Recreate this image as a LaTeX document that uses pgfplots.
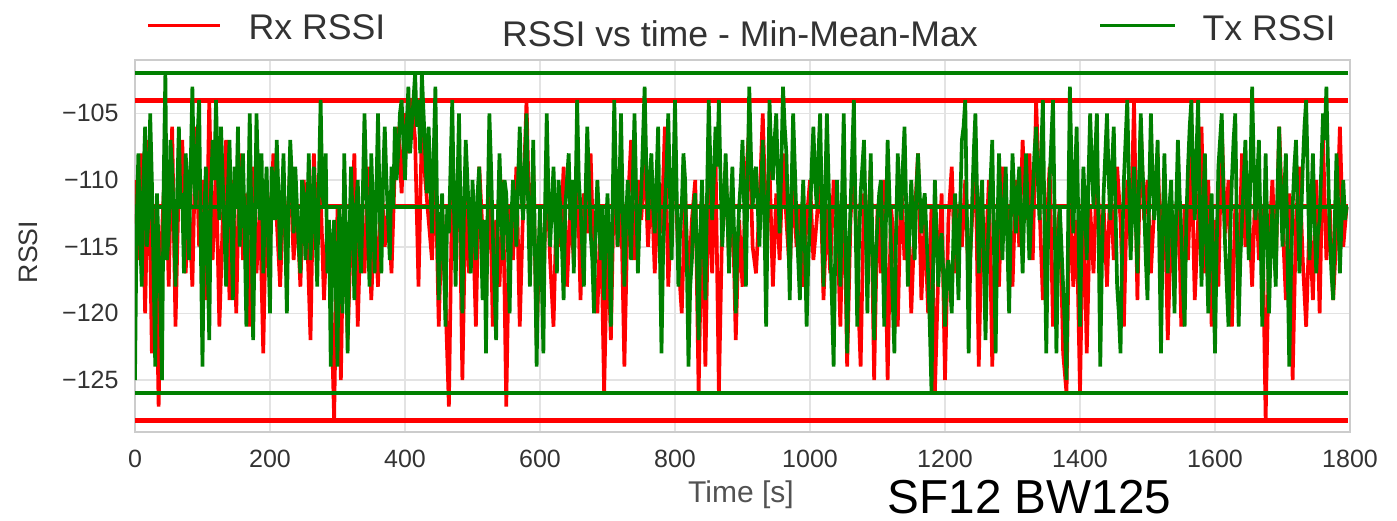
\documentclass[border=0pt]{standalone}
\usepackage{pgfplots}
\pgfplotsset{compat=1.18}
\usepackage{fontspec}
\setmainfont{Liberation Sans}
\definecolor{rxred}{HTML}{FF0000}
\definecolor{txgreen}{HTML}{008000}
\definecolor{gridgray}{HTML}{E3E3E3}
\definecolor{framegray}{HTML}{CCCCCC}
\definecolor{labgray}{HTML}{333333}
\begin{document}
\begin{tikzpicture}
\path[use as bounding box] (-40.5pt,-26.4pt) rectangle (378.6pt,129.6pt);
\begin{axis}[
    at={(0,0)}, anchor=south west,
    scale only axis,
    width=364.5pt, height=111.6pt,
    xmin=0, xmax=1800,
    ymin=-128.9, ymax=-101,
    xtick={0,200,...,1800},
    xticklabels={0,200,400,600,800,1000,1200,1400,1600,1800},
    ytick={-125,-120,-115,-110,-105},
    yticklabels={−125,−120,−115,−110,−105},
    grid=major,
    grid style={gridgray, line width=0.5pt},
    axis line style={framegray, line width=0.6pt},
    tick style={draw=none},
    ticklabel style={font=\fontsize{7.5}{9}\selectfont, text=labgray},
    xticklabel style={yshift=-1.9pt},
    yticklabel style={xshift=-1.4pt},
    clip=true]

% Rx RSSI samples
\addplot[rxred, line width=1.1pt] coordinates {
(0,-110)(5,-116)(10,-108)(15,-120)(20,-107)(25,-123)(30,-112)(35,-127)(40,-114)(45,-108)(50,-118)(55,-106)
(60,-121)(65,-110)(70,-107)(75,-117)(80,-112)(85,-118)(90,-106)(95,-115)(100,-110)(105,-119)(110,-104)(115,-116)
(120,-109)(125,-121)(130,-113)(135,-107)(140,-119)(145,-110)(150,-120)(155,-108)(160,-116)(165,-111)(170,-121)(175,-109)
(180,-117)(185,-112)(190,-123)(195,-110)(200,-115)(205,-108)(210,-113)(215,-118)(220,-111)(225,-114)(230,-109)(235,-116)
(240,-112)(245,-118)(250,-110)(255,-114)(260,-122)(265,-108)(270,-115)(275,-111)(280,-119)(285,-113)(290,-118)(295,-128)
(300,-112)(305,-125)(310,-110)(315,-122)(320,-114)(325,-108)(330,-121)(335,-112)(340,-117)(345,-109)(350,-119)(355,-113)
(360,-118)(365,-110)(370,-115)(375,-112)(380,-117)(385,-109)(390,-106)(395,-111)(400,-105)(405,-108)(410,-104)(415,-107)
(420,-118)(425,-106)(430,-110)(435,-113)(440,-116)(445,-109)(450,-121)(455,-112)(460,-119)(465,-127)(470,-110)(475,-115)
(480,-108)(485,-125)(490,-111)(495,-117)(500,-112)(505,-121)(510,-109)(515,-114)(520,-119)(525,-108)(530,-121)(535,-113)
(540,-118)(545,-110)(550,-127)(555,-112)(560,-116)(565,-109)(570,-121)(575,-112)(580,-104)(585,-115)(590,-109)(595,-122)
(600,-113)(605,-118)(610,-109)(615,-116)(620,-121)(625,-111)(630,-115)(635,-109)(640,-118)(645,-112)(650,-116)(655,-108)
(660,-119)(665,-111)(670,-114)(675,-108)(680,-117)(685,-120)(690,-112)(695,-126)(700,-114)(705,-122)(710,-109)(715,-115)
(720,-111)(725,-124)(730,-112)(735,-107)(740,-116)(745,-110)(750,-113)(755,-108)(760,-115)(765,-110)(770,-117)(775,-111)
(780,-114)(785,-106)(790,-118)(795,-112)(800,-109)(805,-116)(810,-120)(815,-111)(820,-118)(825,-113)(830,-110)(835,-126)
(840,-112)(845,-124)(850,-110)(855,-117)(860,-108)(865,-126)(870,-113)(875,-109)(880,-116)(885,-111)(890,-122)(895,-113)
(900,-118)(905,-110)(910,-106)(915,-115)(920,-117)(925,-112)(930,-105)(935,-114)(940,-109)(945,-118)(950,-111)(955,-116)
(960,-108)(965,-113)(970,-117)(975,-110)(980,-115)(985,-112)(990,-118)(995,-113)(1000,-110)(1005,-116)(1010,-113)(1015,-109)
(1020,-119)(1025,-112)(1030,-117)(1035,-110)(1040,-113)(1045,-121)(1050,-109)(1055,-124)(1060,-113)(1065,-108)(1070,-117)(1075,-124)
(1080,-111)(1085,-115)(1090,-109)(1095,-125)(1100,-112)(1105,-117)(1110,-110)(1115,-125)(1120,-112)(1125,-115)(1130,-121)(1135,-110)
(1140,-116)(1145,-112)(1150,-120)(1155,-113)(1160,-108)(1165,-119)(1170,-113)(1175,-120)(1180,-112)(1185,-126)(1190,-117)(1195,-111)
(1200,-125)(1205,-113)(1210,-109)(1215,-117)(1220,-112)(1225,-115)(1230,-110)(1235,-118)(1240,-113)(1245,-108)(1250,-124)(1255,-112)
(1260,-116)(1265,-110)(1270,-124)(1275,-113)(1280,-118)(1285,-109)(1290,-114)(1295,-112)(1300,-118)(1305,-110)(1310,-115)(1315,-107)
(1320,-113)(1325,-108)(1330,-116)(1335,-104)(1340,-112)(1345,-119)(1350,-114)(1355,-109)(1360,-121)(1365,-115)(1370,-112)(1375,-123)
(1380,-126)(1385,-110)(1390,-118)(1395,-113)(1400,-126)(1405,-111)(1410,-123)(1415,-112)(1420,-117)(1425,-109)(1430,-115)(1435,-112)
(1440,-118)(1445,-110)(1450,-116)(1455,-109)(1460,-113)(1465,-121)(1470,-110)(1475,-115)(1480,-104)(1485,-119)(1490,-106)(1495,-113)
(1500,-110)(1505,-117)(1510,-112)(1515,-108)(1520,-116)(1525,-110)(1530,-122)(1535,-113)(1540,-118)(1545,-109)(1550,-121)(1555,-112)
(1560,-116)(1565,-108)(1570,-119)(1575,-113)(1580,-106)(1585,-117)(1590,-110)(1595,-121)(1600,-113)(1605,-118)(1610,-106)(1615,-114)
(1620,-110)(1625,-121)(1630,-112)(1635,-117)(1640,-108)(1645,-115)(1650,-112)(1655,-118)(1660,-110)(1665,-116)(1670,-112)(1675,-128)
(1680,-115)(1685,-110)(1690,-117)(1695,-106)(1700,-113)(1705,-119)(1710,-111)(1715,-125)(1720,-113)(1725,-109)(1730,-116)(1735,-121)
(1740,-113)(1745,-119)(1750,-110)(1755,-120)(1760,-107)(1765,-116)(1770,-112)(1775,-119)(1780,-114)(1785,-106)(1790,-115)(1795,-112)
};
% Rx min / mean / max
\addplot[rxred, line width=1.5pt] coordinates {(0,-128) (1797,-128)};
\addplot[rxred, line width=1.5pt] coordinates {(0,-112) (1797,-112)};
\addplot[rxred, line width=1.5pt] coordinates {(0,-104) (1797,-104)};

% Tx RSSI samples
\addplot[txgreen, line width=1.1pt] coordinates {
(0,-125)(2.5,-113)(5,-108)(7.5,-114)(10,-118)(12.5,-110)(15,-106)(17.5,-115)(20,-113)(22.5,-105)(25,-110)(27.5,-117)
(30,-124)(32.5,-111)(35,-115)(37.5,-119)(40,-125)(42.5,-110)(45,-102)(47.5,-116)(50,-114)(52.5,-107)(55,-109)(57.5,-113)
(60,-118)(62.5,-111)(65,-106)(67.5,-112)(70,-111)(72.5,-117)(75,-108)(77.5,-110)(80,-116)(82.5,-109)(85,-103)(87.5,-110)
(90,-112)(92.5,-107)(95,-104)(97.5,-115)(100,-124)(102.5,-113)(105,-109)(107.5,-116)(110,-122)(112.5,-111)(115,-107)(117.5,-110)
(120,-104)(122.5,-109)(125,-113)(127.5,-106)(130,-110)(132.5,-114)(135,-118)(137.5,-111)(140,-107)(142.5,-113)(145,-119)(147.5,-109)
(150,-112)(152.5,-106)(155,-115)(157.5,-112)(160,-108)(162.5,-114)(165,-121)(167.5,-112)(170,-105)(172.5,-113)(175,-122)(177.5,-114)
(180,-105)(182.5,-110)(185,-113)(187.5,-108)(190,-117)(192.5,-112)(195,-109)(197.5,-115)(200,-120)(202.5,-109)(205,-111)(207.5,-113)
(210,-107)(212.5,-111)(215,-116)(217.5,-112)(220,-108)(222.5,-114)(225,-120)(227.5,-112)(230,-107)(232.5,-110)(235,-114)(237.5,-109)
(240,-112)(242.5,-115)(245,-117)(247.5,-110)(250,-111)(252.5,-116)(255,-113)(257.5,-108)(260,-116)(262.5,-113)(265,-109)(267.5,-114)
(270,-118)(272.5,-110)(275,-104)(277.5,-111)(280,-112)(282.5,-108)(285,-117)(287.5,-113)(290,-124)(292.5,-115)(295,-113)(297.5,-118)
(300,-124)(302.5,-112)(305,-116)(307.5,-120)(310,-108)(312.5,-114)(315,-123)(317.5,-115)(320,-109)(322.5,-113)(325,-119)(327.5,-112)
(330,-110)(332.5,-115)(335,-117)(337.5,-111)(340,-105)(342.5,-110)(345,-114)(347.5,-118)(350,-108)(352.5,-112)(355,-117)(357.5,-111)
(360,-105)(362.5,-112)(365,-117)(367.5,-110)(370,-106)(372.5,-110)(375,-113)(377.5,-116)(380,-109)(382.5,-112)(385,-106)(387.5,-110)
(390,-108)(392.5,-105)(395,-104)(397.5,-107)(400,-110)(402.5,-106)(405,-103)(407.5,-108)(410,-106)(412.5,-104)(415,-102)(417.5,-106)
(420,-104)(422.5,-108)(425,-102)(427.5,-105)(430,-108)(432.5,-111)(435,-106)(437.5,-110)(440,-114)(442.5,-108)(445,-103)(447.5,-112)
(450,-119)(452.5,-114)(455,-111)(457.5,-116)(460,-121)(462.5,-112)(465,-114)(467.5,-109)(470,-104)(472.5,-112)(475,-118)(477.5,-111)
(480,-105)(482.5,-113)(485,-120)(487.5,-112)(490,-107)(492.5,-110)(495,-113)(497.5,-117)(500,-110)(502.5,-113)(505,-116)(507.5,-111)
(510,-109)(512.5,-114)(515,-119)(517.5,-113)(520,-123)(522.5,-112)(525,-105)(527.5,-109)(530,-114)(532.5,-118)(535,-122)(537.5,-113)
(540,-108)(542.5,-112)(545,-116)(547.5,-110)(550,-111)(552.5,-115)(555,-120)(557.5,-113)(560,-110)(562.5,-112)(565,-115)(567.5,-110)
(570,-106)(572.5,-111)(575,-113)(577.5,-109)(580,-105)(582.5,-112)(585,-118)(587.5,-113)(590,-107)(592.5,-115)(595,-124)(597.5,-116)
(600,-112)(602.5,-117)(605,-123)(607.5,-112)(610,-105)(612.5,-111)(615,-115)(617.5,-112)(620,-109)(622.5,-113)(625,-117)(627.5,-110)
(630,-112)(632.5,-115)(635,-119)(637.5,-112)(640,-110)(642.5,-108)(645,-113)(647.5,-110)(650,-117)(652.5,-112)(655,-104)(657.5,-110)
(660,-112)(662.5,-115)(665,-118)(667.5,-111)(670,-106)(672.5,-110)(675,-114)(677.5,-116)(680,-120)(682.5,-113)(685,-110)(687.5,-113)
(690,-116)(692.5,-112)(695,-119)(697.5,-114)(700,-111)(702.5,-115)(705,-121)(707.5,-112)(710,-104)(712.5,-110)(715,-115)(717.5,-111)
(720,-105)(722.5,-112)(725,-118)(727.5,-113)(730,-110)(732.5,-113)(735,-116)(737.5,-110)(740,-105)(742.5,-111)(745,-117)(747.5,-113)
(750,-111)(752.5,-107)(755,-103)(757.5,-109)(760,-113)(762.5,-110)(765,-108)(767.5,-112)(770,-114)(772.5,-110)(775,-106)(777.5,-115)
(780,-123)(782.5,-115)(785,-112)(787.5,-109)(790,-105)(792.5,-111)(795,-116)(797.5,-110)(800,-104)(802.5,-111)(805,-118)(807.5,-114)
(810,-112)(812.5,-108)(815,-110)(817.5,-116)(820,-124)(822.5,-118)(825,-116)(827.5,-112)(830,-111)(832.5,-116)(835,-122)(837.5,-114)
(840,-110)(842.5,-115)(845,-119)(847.5,-111)(850,-104)(852.5,-109)(855,-113)(857.5,-110)(860,-106)(862.5,-109)(865,-104)(867.5,-110)
(870,-115)(872.5,-112)(875,-108)(877.5,-112)(880,-117)(882.5,-112)(885,-109)(887.5,-114)(890,-120)(892.5,-115)(895,-112)(897.5,-110)
(900,-107)(902.5,-112)(905,-118)(907.5,-110)(910,-103)(912.5,-108)(915,-112)(917.5,-110)(920,-109)(922.5,-112)(925,-115)(927.5,-111)
(930,-107)(932.5,-113)(935,-121)(937.5,-112)(940,-104)(942.5,-108)(945,-110)(947.5,-107)(950,-105)(952.5,-110)(955,-114)(957.5,-109)
(960,-103)(962.5,-106)(965,-108)(967.5,-113)(970,-119)(972.5,-111)(975,-105)(977.5,-109)(980,-113)(982.5,-116)(985,-119)(987.5,-113)
(990,-110)(992.5,-115)(995,-121)(997.5,-116)(1000,-113)(1002.5,-109)(1005,-106)(1007.5,-110)(1010,-112)(1012.5,-108)(1015,-105)(1017.5,-112)
(1020,-118)(1022.5,-111)(1025,-105)(1027.5,-110)(1030,-115)(1032.5,-119)(1035,-124)(1037.5,-115)(1040,-110)(1042.5,-114)(1045,-118)(1047.5,-111)
(1050,-105)(1052.5,-114)(1055,-123)(1057.5,-116)(1060,-112)(1062.5,-108)(1065,-104)(1067.5,-113)(1070,-121)(1072.5,-115)(1075,-111)(1077.5,-109)
(1080,-107)(1082.5,-113)(1085,-120)(1087.5,-113)(1090,-108)(1092.5,-115)(1095,-122)(1097.5,-116)(1100,-113)(1102.5,-111)(1105,-110)(1107.5,-115)
(1110,-121)(1112.5,-113)(1115,-107)(1117.5,-111)(1120,-115)(1122.5,-119)(1125,-123)(1127.5,-114)(1130,-108)(1132.5,-111)(1135,-113)(1137.5,-109)
(1140,-106)(1142.5,-112)(1145,-118)(1147.5,-113)(1150,-110)(1152.5,-113)(1155,-116)(1157.5,-111)(1160,-108)(1162.5,-111)(1165,-114)(1167.5,-112)
(1170,-111)(1172.5,-114)(1175,-117)(1177.5,-121)(1180,-126)(1182.5,-116)(1185,-110)(1187.5,-114)(1190,-118)(1192.5,-115)(1195,-114)(1197.5,-117)
(1200,-121)(1202.5,-117)(1205,-116)(1207.5,-118)(1210,-120)(1212.5,-114)(1215,-111)(1217.5,-115)(1220,-119)(1222.5,-112)(1225,-107)(1227.5,-106)
(1230,-104)(1232.5,-113)(1235,-123)(1237.5,-116)(1240,-112)(1242.5,-108)(1245,-105)(1247.5,-111)(1250,-117)(1252.5,-112)(1255,-110)(1257.5,-116)
(1260,-122)(1262.5,-116)(1265,-113)(1267.5,-110)(1270,-107)(1272.5,-115)(1275,-123)(1277.5,-114)(1280,-108)(1282.5,-112)(1285,-116)(1287.5,-112)
(1290,-109)(1292.5,-115)(1295,-120)(1297.5,-113)(1300,-108)(1302.5,-111)(1305,-114)(1307.5,-111)(1310,-109)(1312.5,-113)(1315,-117)(1317.5,-112)
(1320,-108)(1322.5,-112)(1325,-116)(1327.5,-113)(1330,-111)(1332.5,-108)(1335,-106)(1337.5,-110)(1340,-113)(1342.5,-108)(1345,-104)(1347.5,-114)
(1350,-123)(1352.5,-115)(1355,-110)(1357.5,-107)(1360,-104)(1362.5,-113)(1365,-123)(1367.5,-116)(1370,-112)(1372.5,-115)(1375,-118)(1377.5,-121)
(1380,-125)(1382.5,-113)(1385,-103)(1387.5,-109)(1390,-114)(1392.5,-110)(1395,-106)(1397.5,-113)(1400,-121)(1402.5,-114)(1405,-109)(1407.5,-112)
(1410,-116)(1412.5,-110)(1415,-105)(1417.5,-109)(1420,-112)(1422.5,-108)(1425,-105)(1427.5,-114)(1430,-124)(1432.5,-116)(1435,-111)(1437.5,-108)
(1440,-105)(1442.5,-110)(1445,-113)(1447.5,-109)(1450,-106)(1452.5,-112)(1455,-118)(1457.5,-120)(1460,-123)(1462.5,-115)(1465,-110)(1467.5,-107)
(1470,-104)(1472.5,-110)(1475,-116)(1477.5,-112)(1480,-109)(1482.5,-113)(1485,-117)(1487.5,-110)(1490,-105)(1492.5,-109)(1495,-112)(1497.5,-116)
(1500,-119)(1502.5,-111)(1505,-105)(1507.5,-110)(1510,-113)(1512.5,-110)(1515,-107)(1517.5,-115)(1520,-123)(1522.5,-114)(1525,-108)(1527.5,-113)
(1530,-117)(1532.5,-112)(1535,-110)(1537.5,-115)(1540,-120)(1542.5,-112)(1545,-107)(1547.5,-111)(1550,-114)(1552.5,-118)(1555,-121)(1557.5,-113)
(1560,-109)(1562.5,-106)(1565,-104)(1567.5,-110)(1570,-113)(1572.5,-108)(1575,-104)(1577.5,-112)(1580,-118)(1582.5,-112)(1585,-108)(1587.5,-115)
(1590,-120)(1592.5,-114)(1595,-111)(1597.5,-117)(1600,-123)(1602.5,-115)(1605,-109)(1607.5,-107)(1610,-105)(1612.5,-111)(1615,-115)(1617.5,-118)
(1620,-121)(1622.5,-114)(1625,-110)(1627.5,-107)(1630,-105)(1632.5,-114)(1635,-121)(1637.5,-116)(1640,-113)(1642.5,-110)(1645,-107)(1647.5,-112)
(1650,-116)(1652.5,-109)(1655,-103)(1657.5,-109)(1660,-113)(1662.5,-110)(1665,-107)(1667.5,-114)(1670,-121)(1672.5,-114)(1675,-108)(1677.5,-114)
(1680,-120)(1682.5,-115)(1685,-112)(1687.5,-115)(1690,-118)(1692.5,-111)(1695,-106)(1697.5,-111)(1700,-115)(1702.5,-111)(1705,-108)(1707.5,-116)
(1710,-124)(1712.5,-117)(1715,-112)(1717.5,-109)(1720,-107)(1722.5,-112)(1725,-117)(1727.5,-113)(1730,-109)(1732.5,-106)(1735,-104)(1737.5,-110)
(1740,-116)(1742.5,-112)(1745,-108)(1747.5,-113)(1750,-117)(1752.5,-114)(1755,-113)(1757.5,-109)(1760,-105)(1762.5,-107)(1765,-103)(1767.5,-109)
(1770,-114)(1772.5,-117)(1775,-119)(1777.5,-113)(1780,-108)(1782.5,-112)(1785,-117)(1787.5,-113)(1790,-110)(1792.5,-113)(1795,-112)
};
% Tx min / mean / max
\addplot[txgreen, line width=1.2pt] coordinates {(0,-126) (1797,-126)};
\addplot[txgreen, line width=1.2pt] coordinates {(0,-112) (1797,-112)};
\addplot[txgreen, line width=1.2pt] coordinates {(0,-102) (1797,-102)};
\end{axis}

% title, legend and labels around the axis
\node[font=\fontsize{10.7}{12}\selectfont, text=labgray, anchor=base] at (181.5pt,115.8pt) {RSSI vs time - Min-Mean-Max};
\draw[rxred, line width=0.9pt] (3.9pt,122.1pt) -- (25.5pt,122.1pt);
\node[font=\fontsize{10.7}{12}\selectfont, text=labgray, anchor=base west, inner sep=0pt] at (33.9pt,117.9pt) {Rx RSSI};
\draw[txgreen, line width=0.9pt] (289.5pt,122.1pt) -- (312pt,122.1pt);
\node[font=\fontsize{10.7}{12}\selectfont, text=labgray, anchor=base west, inner sep=0pt] at (320.1pt,117.6pt) {Tx RSSI};
\node[font=\fontsize{9}{10}\selectfont, text=labgray!85, anchor=base] at (181.8pt,-21pt) {Time [s]};
\node[font=\fontsize{8}{10}\selectfont, text=labgray, rotate=90, inner sep=0pt] at (-32.1pt,54pt) {RSSI};
\node[font=\fontsize{14.3}{16}\selectfont, text=black, anchor=base west, inner sep=0pt] at (225.6pt,-24.3pt) {SF12 BW125};
\end{tikzpicture}
\end{document}
